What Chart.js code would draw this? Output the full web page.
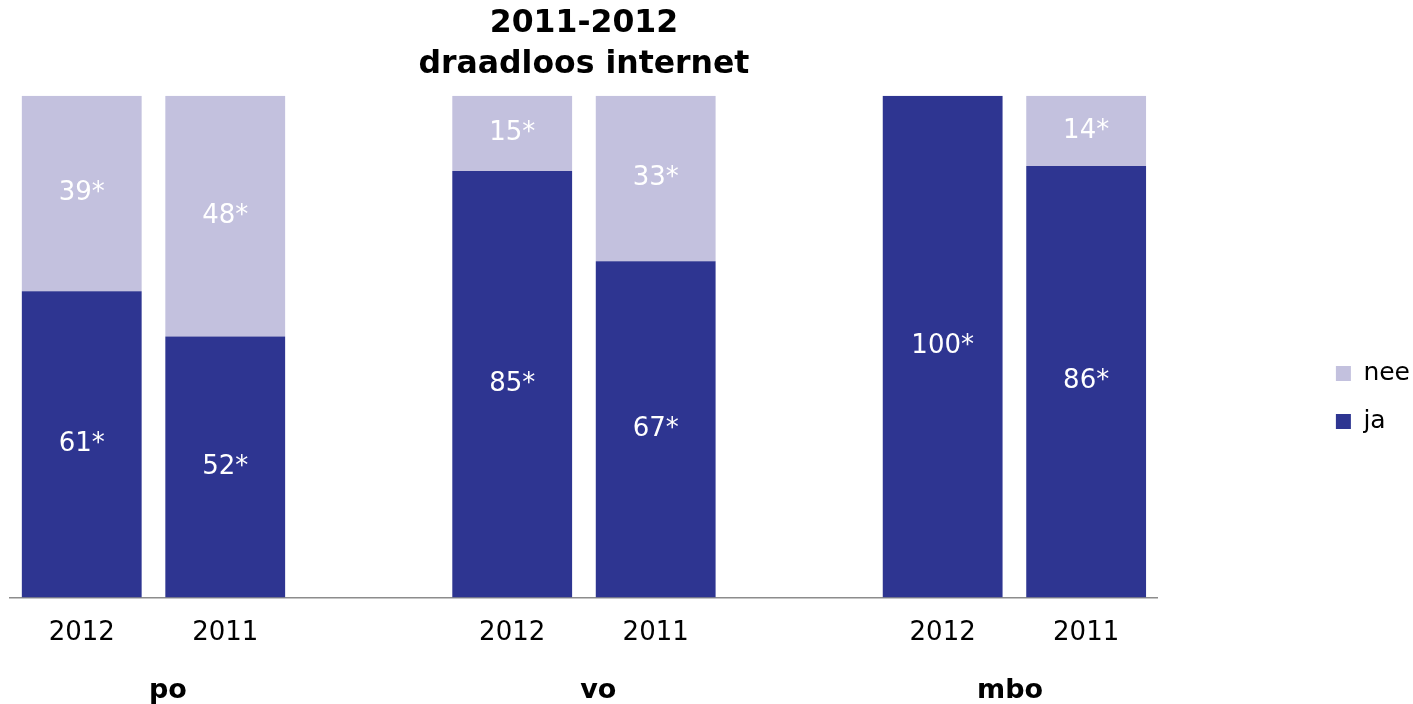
<!DOCTYPE html>
<html>
<head>
<meta charset="utf-8">
<script src="https://cdn.jsdelivr.net/npm/chart.js@4/dist/chart.umd.min.js"></script>
<style>
html,body{margin:0;padding:0;background:#fff;}
#wrap{width:1413px;height:704px;}
</style>
</head>
<body>
<div id="wrap"><canvas id="c" width="1413" height="704"></canvas></div>
<script>
const categories = ['2012', '2011', '', '2012', '2011', '', '2012', '2011'];
const groupNames = ['po', 'vo', 'mbo'];
const groupPositions = [0.6, 3.6, 6.47];
const jaValues = [61, 52, null, 85, 67, null, 100, 86];
const neeValues = [39, 48, null, 15, 33, null, 0, 14];
const titleLines = ['2011-2012', 'draadloos internet'];

const FONT = "'DejaVu Sans', Verdana, sans-serif";

const valueLabels = {
  id: 'valueLabels',
  afterDatasetsDraw(chart) {
    const ctx = chart.ctx;
    ctx.save();
    ctx.fillStyle = '#ffffff';
    ctx.font = '26px ' + FONT;
    ctx.textAlign = 'center';
    ctx.textBaseline = 'middle';
    chart.data.datasets.forEach((ds, di) => {
      const meta = chart.getDatasetMeta(di);
      meta.data.forEach((el, i) => {
        const v = ds.data[i];
        if (v === null || v === undefined || v === 0) return;
        const p = el.getCenterPoint();
        ctx.fillText(v + '*', p.x, p.y);
      });
    });
    ctx.restore();
  }
};

new Chart(document.getElementById('c'), {
  type: 'bar',
  data: {
    labels: categories,
    datasets: [
      { label: 'ja', data: jaValues, backgroundColor: '#2E3591', borderWidth: 0 },
      { label: 'nee', data: neeValues, backgroundColor: '#C3C1DE', borderWidth: 0 }
    ]
  },
  options: {
    responsive: false,
    animation: false,
    categoryPercentage: 1,
    barPercentage: 0.835,
    layout: { padding: { left: 10, right: -7, top: 0, bottom: -9 } },
    plugins: {
      tooltip: { enabled: false },
      title: {
        display: true,
        text: titleLines,
        fullSize: false,
        color: '#000',
        font: { family: FONT, size: 31.5, weight: 'bold', lineHeight: 1.28 },
        padding: { top: 4, bottom: 11 }
      },
      legend: {
        position: 'right',
        reverse: true,
        align: 'center',
        title: {
          display: true,
          text: ' ',
          font: { family: FONT, size: 10 },
          padding: { top: 0, bottom: 70 }
        },
        labels: {
          boxWidth: 15,
          boxHeight: 15,
          padding: 23,
          color: '#000',
          font: { family: FONT, size: 25 }
        }
      }
    },
    scales: {
      x: {
        type: 'category',
        stacked: true,
        weight: 0,
        grid: { display: false, drawTicks: false },
        border: { display: true, color: '#8c8c8c', width: 1.5 },
        ticks: { color: '#000', font: { family: FONT, size: 26 }, padding: 20, maxRotation: 0, autoSkip: false }
      },
      groups: {
        type: 'linear',
        position: 'bottom',
        weight: 1,
        offset: false,
        min: -0.5,
        max: 7.5,
        grid: { display: false, drawTicks: false },
        border: { display: false },
        afterBuildTicks: (scale) => { scale.ticks = groupPositions.map(v => ({ value: v })); },
        ticks: {
          color: '#000',
          font: { family: FONT, size: 27, weight: 'bold' },
          padding: 6,
          maxRotation: 0,
          autoSkip: false,
          callback: (value) => groupNames[groupPositions.indexOf(value)] || ''
        }
      },
      y: {
        position: 'right',
        stacked: true,
        min: 0,
        max: 100,
        grid: { display: false, drawTicks: false },
        border: { display: false },
        ticks: { display: false },
        afterFit: (scale) => { scale.width = 155; }
      }
    }
  },
  plugins: [valueLabels]
});
</script>
</body>
</html>
